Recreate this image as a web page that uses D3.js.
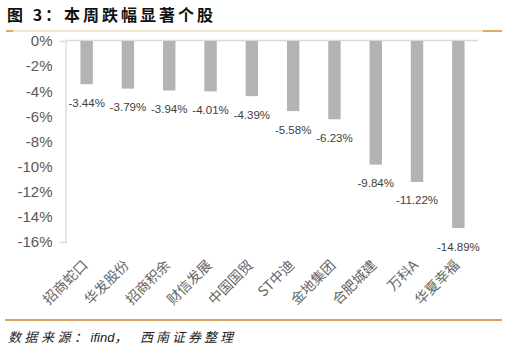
<!DOCTYPE html>
<html>
<head>
<meta charset="utf-8">
<script src="https://cdn.jsdelivr.net/npm/d3@7"></script>
<style>
    body { margin: 0; background: #fff; }
    svg { display: block; }
</style>
</head>
<body>
<div id="chart"></div>
<script>
// 本周跌幅显著个股
var stock_names = ["招商蛇口", "华发股份", "招商积余", "财信发展", "中国国贸", "ST中迪", "金地集团", "合肥城建", "万科A", "华夏幸福"];
var stock_change = [-3.44, -3.79, -3.94, -4.01, -4.39, -5.58, -6.23, -9.84, -11.22, -14.89];
var y_ticks = [0, -2, -4, -6, -8, -10, -12, -14, -16];

var chart_width = 507,
    chart_height = 351;
var plot = { left: 66, right: 479, top: 41, bottom: 242 };

var svg = d3.select("#chart")
    .append("svg")
    .attr("width", chart_width)
    .attr("height", chart_height);

var x = d3.scaleBand()
    .domain(stock_names)
    .range([plot.left, plot.right])
    .paddingInner(0.7)
    .paddingOuter(0.35);

var y = d3.scaleLinear()
    .domain([0, -16])
    .range([plot.top, plot.bottom]);

// title
svg.append("text")
    .attr("x", 7)
    .attr("y", 21)
    .attr("font-family", "'Noto Sans CJK SC', sans-serif")
    .attr("font-weight", "bold")
    .attr("font-size", "16px")
    .attr("letter-spacing", "3px")
    .attr("fill", "#111")
    .text("图 3：本周跌幅显著个股");

// top rule
svg.append("line")
    .attr("x1", 6).attr("x2", 502).attr("y1", 31).attr("y2", 31)
    .attr("stroke", "#f0dcbd").attr("stroke-width", 1.5);
svg.append("line")
    .attr("x1", 6).attr("x2", 13).attr("y1", 31).attr("y2", 31)
    .attr("stroke", "#d9963f").attr("stroke-width", 1.5);
svg.append("line")
    .attr("x1", 483).attr("x2", 502).attr("y1", 31).attr("y2", 31)
    .attr("stroke", "#d9963f").attr("stroke-width", 1.5);

// y axis
var y_axis = svg.append("g")
    .attr("transform", "translate(" + (plot.left - 0.5) + ",0)")
    .call(d3.axisLeft(y)
        .tickValues(y_ticks)
        .tickSizeInner(0)
        .tickSizeOuter(6)
        .tickPadding(13)
        .tickFormat(function (d) { return d + "%"; }));
y_axis.select(".domain").attr("stroke", "#d9d9d9").attr("stroke-width", 1.3);
y_axis.selectAll("text")
    .attr("font-family", "'Liberation Sans', Arial, sans-serif")
    .attr("font-size", "15px")
    .attr("fill", "#595959");

// zero line
svg.append("line")
    .attr("x1", plot.left).attr("x2", plot.right - 1)
    .attr("y1", y(0) - 0.5).attr("y2", y(0) - 0.5)
    .attr("stroke", "#d9d9d9").attr("stroke-width", 1.3);

// bars
svg.append("g")
    .selectAll("rect")
    .data(stock_change)
    .enter().append("rect")
    .attr("x", function (d, i) { return x(stock_names[i]); })
    .attr("y", y(0))
    .attr("width", x.bandwidth())
    .attr("height", function (d) { return y(d) - y(0); })
    .attr("fill", "#b3b3b3");

// value labels
svg.append("g")
    .selectAll("text")
    .data(stock_change)
    .enter().append("text")
    .attr("x", function (d, i) { return x(stock_names[i]) + x.bandwidth() / 2; })
    .attr("y", function (d) { return y(d) + 22.5; })
    .attr("text-anchor", "middle")
    .attr("font-family", "'Liberation Sans', Arial, sans-serif")
    .attr("font-size", "11.5px")
    .attr("fill", "#404040")
    .text(function (d) { return d.toFixed(2) + "%"; });

// category labels
svg.append("g")
    .selectAll("text")
    .data(stock_names)
    .enter().append("text")
    .attr("transform", function (d) {
        var cx = x(d) + x.bandwidth() / 2 + 2;
        return "translate(" + cx + ",266) rotate(-45)";
    })
    .attr("text-anchor", "end")
    .attr("font-family", "'Noto Sans CJK SC', sans-serif")
    .attr("font-size", "14px")
    .attr("fill", "#666")
    .text(function (d) { return d; });

// bottom rule
svg.append("line")
    .attr("x1", 5).attr("x2", 502).attr("y1", 320).attr("y2", 320)
    .attr("stroke", "#d8a25c").attr("stroke-width", 2);

// source note
var note = svg.append("text")
    .attr("x", 8)
    .attr("y", 342)
    .attr("font-family", "'Noto Sans CJK SC', sans-serif")
    .attr("font-style", "italic")
    .attr("font-size", "13px")
    .attr("fill", "#222");
note.append("tspan").attr("letter-spacing", "3.5px").text("数据来源：");
note.append("tspan").attr("font-family", "'Liberation Sans', Arial, sans-serif").text("ifind");
note.append("tspan").attr("letter-spacing", "3px").text("，");
note.append("tspan").attr("x", 140).attr("letter-spacing", "3px").text("西南证券整理");
</script>
</body>
</html>
